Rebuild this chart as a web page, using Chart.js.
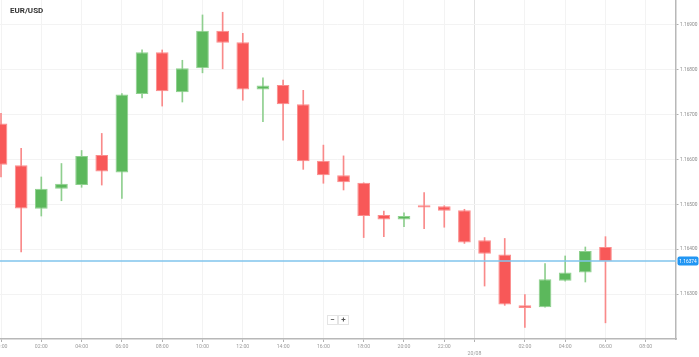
<!DOCTYPE html>
<html>
<head>
<meta charset="utf-8">
<script src="https://cdn.jsdelivr.net/npm/chart.js@4"></script>
<style>
html,body{margin:0;padding:0;background:#fff;}
#wrap{width:699px;height:357px;position:relative;}
</style>
</head>
<body>
<div id="wrap"><canvas id="c"></canvas></div>
<script>
// ---- data (hourly candles, hour index from 19/08 00:00) ----
const hours = [0,1,2,3,4,5,6,7,8,9,10,11,12,13,14,15,16,17,18,19,20,21,22,23,24,25,26,27,28,29,30];
const openV  = [1.16680,1.16587,1.16490,1.16535,1.16543,1.16610,1.16571,1.16746,1.16839,1.16750,1.16803,1.16887,1.16861,1.16756,1.16766,1.16723,1.16597,1.16565,1.16548,1.16476,1.16466,1.16498,1.16496,1.16487,1.16420,1.16388,1.16275,1.16271,1.16330,1.16348,1.16405];
const highV  = [1.16703,1.16625,1.16561,1.16591,1.16620,1.16658,1.16747,1.16844,1.16844,1.16821,1.16922,1.16928,1.16881,1.16782,1.16777,1.16754,1.16632,1.16608,1.16548,1.16485,1.16481,1.16526,1.16497,1.16489,1.16426,1.16424,1.16299,1.16368,1.16385,1.16405,1.16428];
const lowV   = [1.16561,1.16394,1.16474,1.16508,1.16538,1.16543,1.16513,1.16737,1.16719,1.16728,1.16793,1.16802,1.16732,1.16684,1.16643,1.16578,1.16547,1.16532,1.16426,1.16428,1.16450,1.16446,1.16449,1.16413,1.16318,1.16275,1.16226,1.16271,1.16329,1.16327,1.16236];
const closeV = [1.16588,1.16491,1.16535,1.16546,1.16608,1.16573,1.16745,1.16839,1.16752,1.16803,1.16887,1.16860,1.16756,1.16765,1.16723,1.16596,1.16565,1.16549,1.16474,1.16466,1.16474,1.16493,1.16486,1.16415,1.16390,1.16277,1.16269,1.16333,1.16348,1.16396,1.16374];
const lastPrice = 1.16374;
const xTickValues = [0,2,4,6,8,10,12,14,16,18,20,22,23.5,26,28,30,32];
const xTickLabels = ['00:00','02:00','04:00','06:00','08:00','10:00','12:00','14:00','16:00','18:00','20:00','22:00',['','20/08'],'02:00','04:00','06:00','08:00'];
const yTickValues = [1.163,1.164,1.165,1.166,1.167,1.168,1.169];
const titleText = 'EUR/USD';

// ---- view / style ----
const xMin = -0.05, xMax = 33.5;
const yMin = 1.162, yMax = 1.169553;
const FONT = 'Roboto, "Liberation Sans", Arial, sans-serif';
const RED = '#f85858', RED_B = '#fb8c8c', RED_W = '#f98a8a';
const GREEN = '#5cb85c', GREEN_B = '#8fd18f', GREEN_W = '#8fcf8f';
const up = i => closeV[i] >= openV[i];

const bodies = hours.map((h, i) => ({x: h, y: [openV[i], closeV[i]]}));
const wicks = hours.map((h, i) => ({x: h, y: [lowV[i], highV[i]]}));

const overlay = {
  id: 'overlay',
  afterDraw(chart) {
    const ctx = chart.ctx;
    const ys = chart.scales.y;
    const area = chart.chartArea;
    ctx.save();
    // title
    ctx.font = 'bold 8px ' + FONT;
    ctx.fillStyle = '#333';
    ctx.textBaseline = 'middle';
    ctx.textAlign = 'left';
    ctx.fillText(titleText, 10, 10.5);
    // last price label
    const py = ys.getPixelForValue(lastPrice);
    const bx = area.right + 1.5, bw = 21, bh = 9;
    ctx.fillStyle = '#2196f3';
    ctx.beginPath();
    if (ctx.roundRect) ctx.roundRect(bx, py - bh / 2, bw, bh, 2); else ctx.rect(bx, py - bh / 2, bw, bh);
    ctx.fill();
    ctx.fillStyle = '#fff';
    ctx.font = '4.8px ' + FONT;
    ctx.textAlign = 'center';
    ctx.fillText(lastPrice.toFixed(5), bx + bw / 2, py + 0.5);
    // zoom buttons
    const btns = [['\u2212', 327], ['+', 338]];
    btns.forEach(([t, x]) => {
      ctx.fillStyle = '#fff';
      ctx.strokeStyle = '#e4e4e4';
      ctx.lineWidth = 1;
      ctx.fillRect(x, 315, 10.5, 9.5);
      ctx.strokeRect(x + 0.5, 315.5, 10, 9);
      ctx.fillStyle = '#555';
      ctx.font = 'bold 8px ' + FONT;
      ctx.textAlign = 'center';
      ctx.fillText(t, x + 5.5, 320);
    });
    ctx.restore();
  }
};

new Chart(document.getElementById('c'), {
  type: 'bar',
  data: {
    datasets: [
      {
        type: 'line',
        data: [{x: xMin, y: lastPrice}, {x: xMax, y: lastPrice}],
        borderColor: '#80c4ec',
        borderWidth: 1.5,
        pointRadius: 0,
        order: 0
      },
      {
        data: bodies,
        grouped: false,
        backgroundColor: c => up(c.dataIndex) ? GREEN : RED,
        borderColor: c => up(c.dataIndex) ? GREEN_B : RED_B,
        borderWidth: 1,
        borderSkipped: false,
        barPercentage: 0.63,
        categoryPercentage: 1,
        order: 1
      },
      {
        data: wicks,
        grouped: false,
        backgroundColor: c => up(c.dataIndex) ? GREEN_W : RED_W,
        borderWidth: 0,
        barThickness: 1,
        order: 2
      }
    ]
  },
  options: {
    responsive: true,
    maintainAspectRatio: false,
    animation: false,
    layout: {padding: 0},
    plugins: {legend: {display: false}, tooltip: {enabled: false}, title: {display: false}},
    scales: {
      x: {
        type: 'linear',
        offset: false,
        min: xMin, max: xMax,
        afterBuildTicks: s => { s.ticks = xTickValues.map(v => ({value: v})); },
        afterFit: s => { s.paddingLeft = 0; s.paddingRight = 0; s.height = 18; },
        ticks: {
          autoSkip: false, maxRotation: 0, minRotation: 0, padding: 2,
          color: '#9a9a9a', font: {size: 5.2, family: FONT},
          callback: (v, i) => xTickLabels[i]
        },
        grid: {
          offset: false,
          color: c => (c.tick && c.tick.value === 23.5) ? '#e2e2e2' : '#f3f3f3',
          tickColor: '#b0b0b0', tickLength: 3, lineWidth: 1
        },
        border: {color: '#b8b8b8', width: 1.5}
      },
      y: {
        position: 'right',
        min: yMin, max: yMax,
        afterBuildTicks: s => { s.ticks = yTickValues.map(v => ({value: v})); },
        afterFit: s => { s.width = 23; s.paddingTop = 0; s.paddingBottom = 0; },
        ticks: {
          padding: 1.5, color: '#8a8a8a', font: {size: 4.8, family: FONT},
          callback: v => Number(v).toFixed(5)
        },
        grid: {color: '#f3f3f3', tickColor: '#b0b0b0', tickLength: 2.5, lineWidth: 1},
        border: {color: '#b8b8b8', width: 1.5}
      }
    }
  },
  plugins: [overlay]
});
</script>
</body>
</html>
